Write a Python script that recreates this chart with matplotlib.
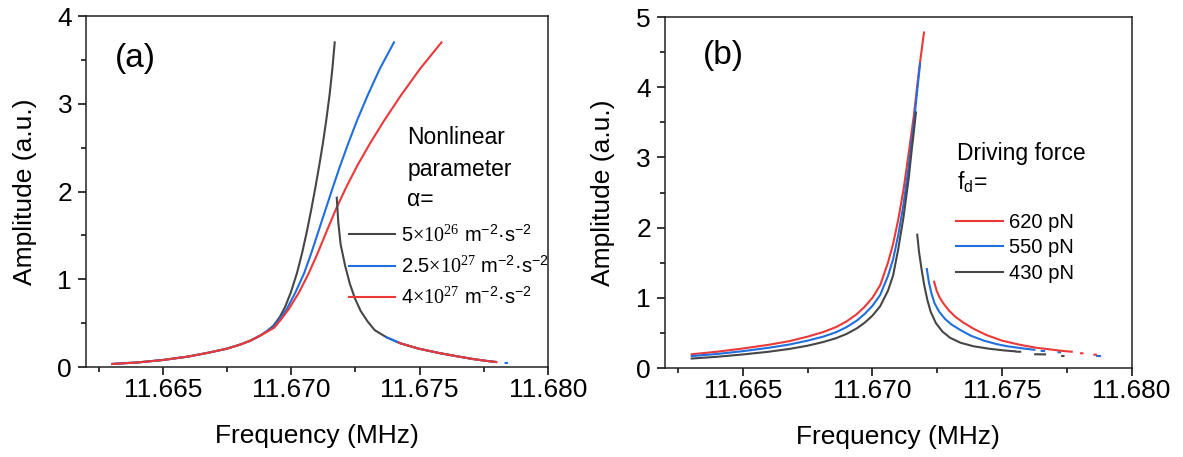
import matplotlib
matplotlib.use("Agg")
import numpy as np
import matplotlib.pyplot as plt
from matplotlib.lines import Line2D

plt.rcParams['font.family'] = ['Liberation Sans', 'DejaVu Sans']
plt.rcParams['mathtext.fontset'] = 'custom'
plt.rcParams['mathtext.rm'] = 'Liberation Serif'
plt.rcParams['mathtext.it'] = 'Liberation Serif:italic'
plt.rcParams['mathtext.sf'] = 'Liberation Sans'

GRAY = '#464646'
BLUE = '#1f6fe0'
RED = '#ec3838'

# ---- panel (a): nonlinear parameter ----
# common low-frequency side (same for the three curves)
fa_low = [11.66302, 11.6640, 11.6650, 11.6660, 11.6668, 11.6675, 11.6680, 11.6684, 11.6688]
aa_low = [0.035, 0.052, 0.080, 0.120, 0.165, 0.210, 0.255, 0.300, 0.360]

fa_gray_up = [11.66905, 11.6693, 11.66955, 11.66975, 11.66998, 11.67022, 11.67042, 11.67061,
              11.67078, 11.67094, 11.67109, 11.67123, 11.67136, 11.67149, 11.67160, 11.67169]
aa_gray_up = [0.41, 0.47, 0.57, 0.68, 0.85, 1.07, 1.30, 1.55,
              1.80, 2.05, 2.30, 2.55, 2.81, 3.10, 3.40, 3.70]
fa_blue_up = [11.66907, 11.66932, 11.66958, 11.66982, 11.67016, 11.67050, 11.67078, 11.67106,
              11.67134, 11.67162, 11.67191, 11.67222, 11.67256, 11.67298, 11.67345, 11.67400]
aa_blue_up = [0.41, 0.46, 0.56, 0.66, 0.85, 1.07, 1.30, 1.55,
              1.80, 2.05, 2.30, 2.55, 2.81, 3.10, 3.40, 3.70]
fa_red_up = [11.66908, 11.66934, 11.66962, 11.66990, 11.67030, 11.67068, 11.67103, 11.67138,
             11.67174, 11.67214, 11.67258, 11.67307, 11.67362, 11.67428, 11.67502, 11.67585]
aa_red_up = [0.405, 0.45, 0.55, 0.66, 0.85, 1.07, 1.30, 1.55,
             1.80, 2.05, 2.30, 2.55, 2.81, 3.10, 3.40, 3.70]

fa_gray_lo = [11.67177, 11.67183, 11.67192, 11.67210, 11.67228, 11.67248, 11.67270, 11.67297,
              11.67325, 11.67370, 11.67425, 11.67495, 11.67575, 11.67650, 11.67710, 11.67760, 11.67798]
aa_gray_lo = [1.93, 1.65, 1.40, 1.15, 0.95, 0.78, 0.64, 0.52,
              0.42, 0.34, 0.27, 0.21, 0.16, 0.12, 0.09, 0.07, 0.057]
fa_blue_lo = [11.67370, 11.67425, 11.67495, 11.67575, 11.67650, 11.67710, 11.67760, 11.67798,
              np.nan, 11.67835, 11.67840]
aa_blue_lo = [0.34, 0.27, 0.21, 0.16, 0.12, 0.09, 0.07, 0.057, np.nan, 0.046, 0.046]
fa_red_lo = [11.67418, 11.67425, 11.67495, 11.67575, 11.67650, 11.67710, 11.67760, 11.67798]
aa_red_lo = [0.28, 0.27, 0.21, 0.16, 0.12, 0.09, 0.07, 0.057]

labels_a = ['5' + r'$\times10^{26}$' + ' m' + r'$^{\mathsf{-2}}$' + '·s' + r'$^{\mathsf{-2}}$',
            '2.5' + r'$\times10^{27}$' + ' m' + r'$^{\mathsf{-2}}$' + '·s' + r'$^{\mathsf{-2}}$',
            '4' + r'$\times10^{27}$' + ' m' + r'$^{\mathsf{-2}}$' + '·s' + r'$^{\mathsf{-2}}$']

# ---- panel (b): driving force ----
fb_up = [11.66303, 11.6640, 11.6650, 11.6660, 11.6668, 11.6675, 11.6681, 11.6686, 11.6690,
         11.6694, 11.6697, 11.6700, 11.6703, 11.6706, 11.6708, 11.6710, 11.6712, 11.6714]
ab_red_up = [0.196, 0.232, 0.278, 0.331, 0.383, 0.447, 0.512, 0.583, 0.663,
             0.768, 0.872, 1.00, 1.18, 1.50, 1.77, 2.12, 2.54, 3.06]
ab_blue_up = [0.170, 0.200, 0.240, 0.288, 0.335, 0.390, 0.447, 0.510, 0.582,
              0.675, 0.770, 0.885, 1.04, 1.31, 1.55, 1.90, 2.33, 2.87]
ab_gray_up = [0.135, 0.160, 0.193, 0.232, 0.272, 0.318, 0.370, 0.425, 0.485,
              0.565, 0.645, 0.745, 0.88, 1.10, 1.32, 1.70, 2.15, 2.70]
# peak ends
fb_red_top = [11.6714, 11.6716, 11.6718, 11.67199]
ab_red_top = [3.06, 3.60, 4.25, 4.78]
fb_blue_top = [11.6714, 11.6716, 11.6717, 11.67184]
ab_blue_top = [2.87, 3.48, 3.85, 4.34]
fb_gray_top = [11.6714, 11.6715, 11.6716, 11.67168]
ab_gray_top = [2.70, 3.05, 3.37, 3.64]

fb_gray_lo = [11.67173, 11.67180, 11.67190, 11.67200, 11.67212, 11.67225, 11.67245, 11.67270,
              11.67300, 11.67340, 11.67390, 11.67450, 11.67510, 11.67550, np.nan,
              11.67557, 11.67570, np.nan, 11.67628, 11.67666, np.nan, 11.67732, 11.67737]
ab_gray_lo = [1.90, 1.65, 1.40, 1.18, 0.97, 0.80, 0.64, 0.52,
              0.43, 0.36, 0.31, 0.275, 0.25, 0.238, np.nan,
              0.233, 0.232, np.nan, 0.196, 0.194, np.nan, 0.172, 0.171]
fb_blue_lo = [11.67210, 11.67218, 11.67228, 11.67240, 11.67258, 11.67280, 11.67305, 11.67340,
              11.67380, 11.67430, 11.67480, 11.67520, 11.67580, 11.67625, np.nan,
              11.67653, 11.67662, np.nan, 11.67718, 11.67724, np.nan, 11.67866, 11.67878]
ab_blue_lo = [1.41, 1.22, 1.06, 0.92, 0.80, 0.70, 0.62, 0.54,
              0.46, 0.39, 0.34, 0.31, 0.28, 0.26, np.nan,
              0.243, 0.242, np.nan, 0.225, 0.224, np.nan, 0.172, 0.170]
fb_red_lo = [11.67238, 11.67248, 11.67260, 11.67274, 11.67295, 11.67320, 11.67350, 11.67390,
             11.67440, 11.67500, 11.67570, 11.67630, 11.67685, 11.67730, 11.67769, np.nan,
             11.67805, 11.67810, np.nan, 11.67856, 11.67862]
ab_red_lo = [1.23, 1.10, 1.00, 0.92, 0.82, 0.73, 0.65, 0.56,
             0.47, 0.39, 0.33, 0.29, 0.265, 0.245, 0.232, np.nan,
             0.21, 0.21, np.nan, 0.19, 0.19]

labels_b = ['620 pN', '550 pN', '430 pN']

LW = 1.5
FS = 19


def style_axes(ax, ymax):
    ax.set_xlim(11.662, 11.680)
    ax.set_ylim(0, ymax)
    ax.set_xticks([11.665, 11.670, 11.675, 11.680])
    ax.set_xticklabels(['11.665', '11.670', '11.675', '11.680'])
    ax.set_xticks([11.6625, 11.6675, 11.6725, 11.6775], minor=True)
    ax.set_yticks(range(0, ymax + 1))
    ax.set_yticks(np.arange(0.5, ymax, 1.0), minor=True)
    ax.tick_params(which='major', direction='out', length=6, width=1.1, labelsize=FS, pad=2)
    ax.tick_params(which='minor', direction='out', length=3.5, width=1.1)
    ax.tick_params(axis='y', which='major', pad=4)
    for s in ax.spines.values():
        s.set_linewidth(1.1)
        s.set_color('#222222')
    ax.set_xlabel('Frequency (MHz)', fontsize=FS, labelpad=16)
    ax.set_ylabel('Amplitude (a.u.)', fontsize=FS, labelpad=15)


fig = plt.figure(figsize=(11.83, 4.57), dpi=100)
ax1 = fig.add_axes([0.0727, 0.1969, 0.3905, 0.768])
ax2 = fig.add_axes([0.5621, 0.1947, 0.3945, 0.768])

# panel (a)
ax1.plot(fa_low + fa_gray_up, aa_low + aa_gray_up, color=GRAY, lw=LW)
ax1.plot(fa_low + fa_blue_up, aa_low + aa_blue_up, color=BLUE, lw=LW)
ax1.plot(fa_low + fa_red_up, aa_low + aa_red_up, color=RED, lw=LW)
ax1.plot(fa_gray_lo, aa_gray_lo, color=GRAY, lw=LW)
ax1.plot(fa_blue_lo, aa_blue_lo, color=BLUE, lw=LW)
ax1.plot(fa_red_lo, aa_red_lo, color=RED, lw=LW)
style_axes(ax1, 4)
ax1.text(0.063, 0.88, '(a)', transform=ax1.transAxes, fontsize=24, va='center', ha='left')
ax1.text(0.695, 0.655, 'Nonlinear', transform=ax1.transAxes, fontsize=16.5, va='center')
ax1.text(0.695, 0.564, 'parameter', transform=ax1.transAxes, fontsize=16.5, va='center')
ax1.text(0.695, 0.476, 'α=', transform=ax1.transAxes, fontsize=16.5, va='center')
handles_a = [Line2D([], [], color=c, lw=LW) for c in (GRAY, BLUE, RED)]
ax1.legend(handles_a, labels_a, loc='upper left', bbox_to_anchor=(0.569, 0.407),
           frameon=False, fontsize=14.5, handlelength=2.3, handletextpad=0.3,
           labelspacing=0.5, borderpad=0, borderaxespad=0)

# panel (b)
ax2.plot(fb_up + fb_red_top[1:], ab_red_up + ab_red_top[1:], color=RED, lw=LW)
ax2.plot(fb_up + fb_blue_top[1:], ab_blue_up + ab_blue_top[1:], color=BLUE, lw=LW)
ax2.plot(fb_up + fb_gray_top[1:], ab_gray_up + ab_gray_top[1:], color=GRAY, lw=LW)
ax2.plot(fb_gray_lo, ab_gray_lo, color=GRAY, lw=LW)
ax2.plot(fb_blue_lo, ab_blue_lo, color=BLUE, lw=LW)
ax2.plot(fb_red_lo, ab_red_lo, color=RED, lw=LW)
style_axes(ax2, 5)
ax2.text(0.081, 0.89, '(b)', transform=ax2.transAxes, fontsize=24, va='center', ha='left')
ax2.text(0.625, 0.612, 'Driving force', transform=ax2.transAxes, fontsize=16.5, va='center')
ax2.text(0.625, 0.53, 'f' + r'$_{\mathsf{d}}$' + '=', transform=ax2.transAxes, fontsize=16.5, va='center')
handles_b = [Line2D([], [], color=c, lw=LW) for c in (RED, BLUE, GRAY)]
ax2.legend(handles_b, labels_b, loc='upper left', bbox_to_anchor=(0.624, 0.442),
           frameon=False, fontsize=14.5, handlelength=2.3, handletextpad=0.3,
           labelspacing=0.325, borderpad=0, borderaxespad=0)

fig.savefig('out.png', dpi=100)
